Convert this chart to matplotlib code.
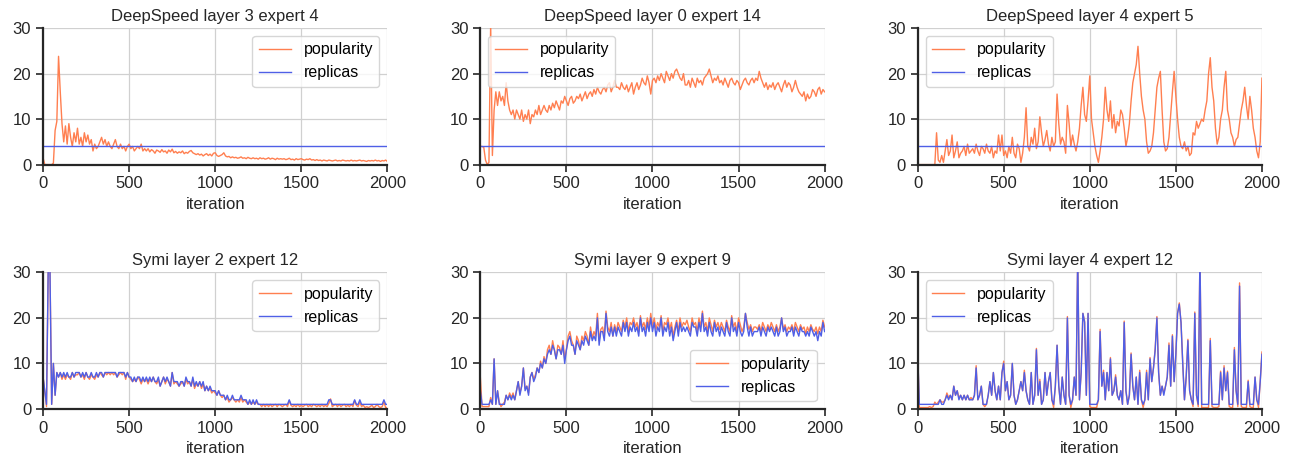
import numpy as np
import matplotlib
matplotlib.use("Agg")
import matplotlib.pyplot as plt

plt.rcParams['font.family'] = ['Liberation Sans', 'DejaVu Sans']
plt.rcParams['font.size'] = 12

POP_COLOR = '#ff7f50'
REP_COLOR = '#4f5fe6'

# iterations sampled every 10 steps
iteration = np.arange(0, 2001, 10)

# ---- DeepSpeed layer 3 expert 4 ----
ds_l3_e4_pop = [
    1.5, 0, 0, 0, 0, 0, 0.3, 7.5, 9.5, 23.8, 16, 9, 5, 8.5, 4.5, 9, 6, 4, 7, 5,
    8, 4.5, 6, 4, 7, 5, 6.5, 4.5, 5.5, 3, 4.5, 3.5, 4, 5, 6, 4.5, 5.5, 4, 5, 4,
    3.5, 4.5, 5.5, 4, 3.5, 4.5, 3.5, 4, 3, 4, 4.5, 3.5, 4, 3, 3.5, 4, 3.5, 4.5, 3, 3.5,
    3, 3.5, 2.8, 3.3, 3, 2.5, 3.2, 3, 2.7, 3.3, 2.8, 3, 2.5, 3.2, 2.8, 3.4, 2.6, 2.9, 2.5, 2.8,
    2.6, 3, 2.4, 2.7, 2.5, 2.9, 3.1, 2.6, 2.4, 2.2, 2.4, 2.1, 2.3, 1.9, 2.2, 2.4, 2, 2.3, 1.9, 2.5,
    2.6, 2, 1.8, 2, 2.2, 2.6, 1.9, 1.7, 1.8, 1.5, 1.7, 1.5, 1.6, 1.4, 1.5, 1.7, 1.4, 1.5, 1.3, 1.6,
    1.4, 1.3, 1.5, 1.3, 1.4, 1.2, 1.5, 1.3, 1.4, 1.2, 1.3, 1.5, 1.2, 1.4, 1.3, 1.1, 1.4, 1.2, 1.3, 1.2,
    1.3, 1.1, 1.2, 1.4, 1.1, 1.2, 1.0, 1.3, 1.1, 1.2, 1.3, 1.1, 1.0, 1.2, 1.1, 1.3, 1.0, 1.1, 0.9, 1.1,
    0.9, 1.0, 0.8, 1.0, 0.9, 0.8, 1.0, 0.9, 0.8, 0.9, 1.0, 0.8, 0.9, 0.8, 1.0, 0.9, 0.8, 0.9, 0.8, 1.0,
    0.8, 0.9, 0.8, 0.9, 1.0, 0.8, 0.9, 0.8, 0.7, 0.9, 0.8, 0.9, 0.8, 1.0, 0.8, 0.9, 0.7, 0.9, 0.8, 1.0,
    0.7]
ds_l3_e4_rep = [4] * 201

# ---- DeepSpeed layer 0 expert 14 ----
ds_l0_e14_pop = [
    4, 4, 3.8, 1, 0, 0.5, 31, 2, 12, 16, 13, 16, 14, 15, 13, 18, 14, 12, 11, 12,
    10, 12, 11, 10, 12, 9.5, 11, 10, 12, 9, 11, 10.5, 12, 11, 13, 11, 12, 13, 12, 11.5,
    13, 12, 13.5, 12.5, 14, 13, 12, 14, 13.5, 15, 14, 13, 14.5, 15, 13.5, 14, 15, 14.5, 15.5, 14,
    15, 16, 14.5, 15.5, 16, 15, 16.5, 15.5, 17, 16, 15.5, 16.5, 17, 16, 17.5, 18, 16, 17, 18.5, 17,
    17, 16.5, 18, 17, 16.5, 17.5, 16, 17, 18, 15.5, 17, 18, 16.5, 17.5, 19, 18, 17.5, 19.5, 18, 15.5,
    18.5, 19, 18, 19.5, 18.5, 20, 19, 18, 20.5, 19.5, 18.5, 20, 19, 20.5, 21, 20, 19, 18.5, 20, 17.5,
    17.5, 18.5, 17, 19, 18, 17, 19, 18, 18.5, 17.5, 19, 19.5, 20, 21, 19.5, 18, 19, 18.5, 19.5, 18,
    18.5, 17.5, 19, 18, 17, 18.5, 19, 18, 17.5, 18.5, 18, 16.5, 17.5, 18.5, 19, 18, 17.5, 18.5, 19, 18,
    19, 18.5, 20.5, 19, 18, 17, 18, 16.5, 17.5, 17, 18, 16.5, 17.5, 18, 17, 16, 17.5, 18.5, 17, 18,
    17.5, 16, 17, 18.5, 17, 16, 15.5, 15, 16, 14, 15.5, 14.5, 15, 16.5, 16, 15, 16.5, 17, 15.5, 16.5,
    16]
ds_l0_e14_rep = [4] * 201

# ---- DeepSpeed layer 4 expert 5 ----
ds_l4_e5_pop = [
    0, 0, 0, 0, 0, 0, 0, 0, 0, 0, 0, 7, 1, 0.5, 2, 0.5, 3, 5.5, 2, 3,
    6.5, 1.5, 3, 5, 1.5, 2.5, 3, 4, 2, 4.5, 2.5, 3, 3.5, 2.5, 4.5, 3, 2, 4, 3.5, 2.5,
    4.5, 3, 2.5, 4, 1.5, 3, 2.5, 6.5, 3, 6.5, 2, 3, 1.5, 4, 2.5, 6, 2.5, 1.5, 4.5, 3.5,
    0.5, 2.5, 6, 12.5, 4, 3, 6, 4.5, 8, 3.5, 5, 10.5, 7, 4, 5.5, 7.5, 4.5, 3, 6, 4,
    5, 15.5, 9, 4.5, 6, 5, 2.5, 13, 9, 4, 6.5, 4.5, 3, 5, 8, 13, 17, 11, 9.5, 14,
    19.5, 10, 7, 4, 2, 0.5, 3, 6, 10, 17, 12, 9.5, 14, 8, 11, 7, 9.5, 8.5, 12, 11,
    8, 4, 6, 9, 14, 18, 20, 22, 26, 20, 15, 12, 10, 5, 2.5, 3, 4, 7, 12, 17,
    19, 20.5, 12, 5, 3, 3.5, 6, 11, 16, 20.5, 15, 10, 6, 4, 3.5, 5, 3, 4, 2, 2.5,
    7, 6.5, 9.5, 8, 9, 10, 9.5, 12, 14, 20, 23.5, 17, 14, 8, 4.5, 6, 10, 12, 17, 20.5,
    12, 10, 7, 6, 4, 5.5, 6, 9, 12, 14, 17, 13, 10, 15, 12, 8, 6, 3, 1.5, 5,
    19]
ds_l4_e5_rep = [4] * 201

# ---- Symi layer 2 expert 12 ----
sy_l2_e12_pop = [
    7, 4, 0.5, 31, 31, 1, 10, 3, 8, 7, 8, 6.5, 7.5, 6.5, 7.5, 7, 6.5, 8, 7, 7.5,
    7.5, 8, 7, 7.5, 6.5, 8, 7, 6.5, 7.5, 7, 6.5, 7.5, 7, 8, 7.5, 7, 8, 7.5, 8, 7.5,
    8, 7.5, 8, 7, 7.5, 8, 7.5, 8, 6.5, 8, 7, 6.5, 6, 6.5, 6, 7, 6.5, 5.5, 6.5, 6,
    6.5, 5.5, 6.5, 6, 7, 6, 5.5, 6.5, 5, 6, 7, 5.5, 6.5, 6, 5, 8, 5.5, 6, 5.5, 5,
    5.5, 6, 5, 6.5, 5.5, 6, 5, 6.5, 4.5, 5.5, 5, 6, 4.5, 5.5, 4, 5, 4, 4.5, 3.5, 4,
    3.5, 3, 4, 3, 2.5, 3, 2, 2.5, 1.5, 2, 2.5, 2, 1.5, 2, 1.5, 2.5, 1.5, 2, 1.5, 1,
    1.5, 1, 1.5, 1, 1.5, 1, 1, 0.5, 1, 0.5, 1, 0.5, 1, 0.5, 0.8, 1, 0.5, 1, 0.8, 0.5,
    0.8, 1, 0.5, 1.8, 0.8, 0.5, 0.8, 0.5, 1, 0.5, 0.8, 0.5, 0.8, 1, 0.5, 0.8, 0.5, 1, 0.8, 0.5,
    0.8, 0.5, 1, 0.5, 0.8, 0.5, 1.2, 2.2, 0.5, 0.8, 1, 0.5, 1, 0.5, 0.8, 1, 0.5, 0.8, 0.5, 1,
    0.5, 1.8, 0.8, 0.5, 1.5, 0.5, 0.8, 0.3, 0.5, 0.3, 0.5, 0.8, 0.3, 0.5, 1, 0.5, 0.3, 0.5, 1.5, 0.3,
    0.3]
sy_l2_e12_rep = [
    7, 4, 1, 31, 31, 1, 10, 3, 8, 7, 8, 7, 8, 7, 8, 7, 7, 8, 7, 8,
    8, 8, 7, 8, 7, 8, 7, 7, 8, 7, 7, 8, 7, 8, 8, 7, 8, 8, 8, 8,
    8, 8, 8, 7, 8, 8, 8, 8, 7, 8, 7, 7, 6, 7, 6, 7, 7, 6, 7, 6,
    7, 6, 7, 6, 7, 6, 6, 7, 5, 6, 7, 6, 7, 6, 5, 8, 6, 6, 6, 5,
    6, 6, 5, 7, 6, 6, 5, 7, 5, 6, 5, 6, 5, 6, 4, 5, 4, 5, 4, 4,
    4, 3, 4, 3, 3, 3, 2, 3, 2, 2, 3, 2, 2, 2, 2, 3, 2, 2, 2, 1,
    2, 1, 2, 1, 2, 1, 1, 1, 1, 1, 1, 1, 1, 1, 1, 1, 1, 1, 1, 1,
    1, 1, 1, 2, 1, 1, 1, 1, 1, 1, 1, 1, 1, 1, 1, 1, 1, 1, 1, 1,
    1, 1, 1, 1, 1, 1, 2, 2, 1, 1, 1, 1, 1, 1, 1, 1, 1, 1, 1, 1,
    1, 2, 1, 1, 2, 1, 1, 1, 1, 1, 1, 1, 1, 1, 1, 1, 1, 1, 2, 1,
    1]

# ---- Symi layer 9 expert 9 ----
sy_l9_e9_pop = [
    7, 0.5, 0.5, 0.5, 0.5, 0.5, 2.5, 1, 11, 1, 4, 1.5, 0.5, 1, 1.5, 3, 2, 3.5, 2.5, 3.5,
    2, 4, 6, 3.5, 5, 9, 4.5, 5, 3.5, 7, 8, 6.5, 7.5, 9, 8, 10.5, 9, 11.5, 10, 13,
    14, 12, 15, 13, 11, 14, 13.5, 12, 15, 11, 13, 16, 17, 15, 14, 12, 16, 15, 13, 16,
    15, 17, 16, 14, 18, 15.5, 17, 16, 21, 15, 17.5, 18, 16, 21.5, 18, 17, 19, 16, 18.5, 17,
    19, 18, 17, 19.5, 18, 20, 17, 19, 18.5, 20, 18, 19, 17, 20.5, 18, 19, 17.5, 20, 18, 21,
    18, 20, 17.5, 19, 18, 20.5, 17, 19, 18.5, 20, 17.5, 19, 16, 18, 19.5, 17, 20, 18, 19, 18.5,
    19.5, 18, 17, 20, 18.5, 19, 17, 20, 18, 21.5, 18, 19, 17, 20, 18.5, 17, 19.5, 18, 19, 17.5,
    19, 18, 17, 19.5, 18, 17, 20.5, 18, 19, 17, 20, 18.5, 17, 18, 21, 19, 17.5, 18.5, 17, 18,
    18, 17.5, 18.5, 17, 19, 18, 17, 18.5, 17.5, 19, 18, 17, 18.5, 17, 18, 20, 17.5, 18.5, 17, 18,
    17.5, 18.5, 17, 19, 18, 17, 18.5, 17.5, 18, 16.5, 18, 17, 18.5, 17.5, 17, 18, 16.5, 18, 17, 19.5,
    18]
sy_l9_e9_rep = [
    4, 1, 1, 1, 1, 1, 2, 1, 11, 1, 4, 1, 1, 1, 1, 3, 2, 3, 2, 3,
    2, 4, 6, 3, 5, 9, 4, 5, 3, 7, 8, 6, 7, 9, 8, 10, 9, 11, 10, 12,
    13, 12, 14, 13, 11, 13, 13, 12, 14, 10, 13, 15, 16, 14, 14, 12, 15, 14, 13, 15,
    14, 16, 15, 14, 17, 15, 16, 15, 20, 14, 17, 17, 15, 21, 17, 16, 18, 16, 18, 16,
    18, 17, 16, 19, 17, 19, 16, 18, 17, 19, 17, 18, 16, 20, 17, 18, 16, 19, 17, 20,
    17, 19, 16, 18, 17, 20, 16, 18, 17, 19, 16, 18, 15, 17, 19, 16, 19, 17, 18, 17,
    18, 17, 16, 19, 18, 18, 16, 19, 17, 21, 17, 18, 16, 19, 17, 16, 19, 17, 18, 16,
    18, 17, 16, 19, 17, 16, 20, 17, 18, 16, 19, 17, 16, 17, 21, 18, 16, 18, 16, 17,
    17, 17, 18, 16, 18, 17, 16, 18, 17, 18, 17, 16, 18, 16, 17, 20, 17, 18, 16, 17,
    17, 18, 16, 18, 17, 16, 18, 17, 17, 16, 17, 16, 18, 17, 16, 17, 15, 17, 16, 19,
    17]

# ---- Symi layer 4 expert 12 ----
sy_l4_e12_pop = [
    13, 0.3, 0.3, 0.3, 0.3, 0.3, 0.3, 0.5, 0.3, 0.5, 1.5, 1, 1.5, 2, 1.5, 1.5, 2, 3.5, 2.5, 3,
    2, 5, 3, 4, 2.5, 3, 2, 3, 2, 3, 2, 2.5, 2, 3, 9.5, 2, 3, 5, 1, 0.5,
    1, 3, 6, 3, 8, 4, 2, 5, 2, 8, 10.5, 4, 6, 2, 3, 10, 3, 1, 2, 4,
    6, 4, 8.5, 4, 2, 1, 8, 1, 3, 13.3, 3, 6.5, 1, 2, 8, 3, 6, 8, 2, 0.3,
    5, 14, 5, 1, 7, 3, 1, 20.3, 3, 0.3, 2, 7, 3, 34, 2, 8, 21, 19.3, 3, 21,
    0.5, 0.3, 0.3, 0.3, 0.3, 2, 17.5, 5, 8.5, 2, 8, 4, 11.3, 3, 4, 7.5, 3, 2, 4, 1,
    19.3, 4, 1, 3, 12.3, 5, 2, 7, 1, 8.5, 2, 0.3, 2, 8.5, 2, 11.3, 6, 9, 13.3, 20.3,
    8, 3, 5, 3.5, 5, 7, 14.5, 5, 16.3, 6, 12.3, 21, 23.3, 19, 10, 2, 7, 15.3, 4, 2,
    0.5, 21.3, 3, 0.5, 34, 0.3, 0.3, 0.3, 0.3, 0.3, 15.5, 0.5, 0.3, 0.3, 0.3, 0.5, 8.3, 2, 9.5, 4,
    8.3, 0.5, 0.3, 0.3, 13.5, 4, 0.5, 27.7, 0.5, 0.3, 0.3, 0.3, 6.3, 0.5, 0.3, 0.3, 7, 2, 0.3, 6,
    12.5]
sy_l4_e12_rep = [
    13, 1, 1, 1, 1, 1, 1, 1, 1, 1, 1, 1, 1, 2, 1, 1, 2, 3, 2, 3,
    2, 5, 3, 4, 2, 3, 2, 3, 2, 3, 2, 2, 2, 3, 9, 2, 3, 5, 1, 1,
    1, 3, 6, 3, 8, 4, 2, 5, 2, 8, 10, 4, 6, 2, 3, 10, 3, 1, 2, 4,
    6, 4, 8, 4, 2, 1, 8, 1, 3, 13, 3, 6, 1, 2, 8, 3, 6, 8, 2, 1,
    5, 14, 5, 1, 7, 3, 1, 20, 3, 1, 2, 7, 3, 34, 2, 8, 21, 19, 3, 21,
    1, 1, 1, 1, 1, 2, 17, 5, 8, 2, 8, 4, 11, 3, 4, 7, 3, 2, 4, 1,
    19, 4, 1, 3, 12, 5, 2, 7, 1, 8, 2, 1, 2, 8, 2, 11, 6, 9, 13, 20,
    8, 3, 5, 3, 5, 7, 14, 5, 16, 6, 12, 21, 23, 19, 10, 2, 7, 15, 4, 2,
    1, 21, 3, 1, 34, 1, 1, 1, 1, 1, 15, 1, 1, 1, 1, 1, 8, 2, 9, 4,
    8, 1, 1, 1, 13, 4, 1, 27, 1, 1, 1, 1, 6, 1, 1, 1, 7, 2, 1, 6,
    12]

titles = ['DeepSpeed layer 3 expert 4', 'DeepSpeed layer 0 expert 14', 'DeepSpeed layer 4 expert 5',
          'Symi layer 2 expert 12', 'Symi layer 9 expert 9', 'Symi layer 4 expert 12']
pops = [ds_l3_e4_pop, ds_l0_e14_pop, ds_l4_e5_pop, sy_l2_e12_pop, sy_l9_e9_pop, sy_l4_e12_pop]
reps = [ds_l3_e4_rep, ds_l0_e14_rep, ds_l4_e5_rep, sy_l2_e12_rep, sy_l9_e9_rep, sy_l4_e12_rep]
legend_locs = ['upper right', 'upper left', 'upper left', 'upper right', 'lower right', 'upper left']

fig, axes = plt.subplots(2, 3, figsize=(12.89, 4.61), dpi=100)
fig.subplots_adjust(left=0.0334, right=0.979, top=0.939, bottom=0.113, wspace=0.27, hspace=0.79)

for ax, title, pop, rep, loc in zip(axes.flat, titles, pops, reps, legend_locs):
    ax.plot(iteration, pop, color=POP_COLOR, lw=1, label='popularity')
    ax.plot(iteration, rep, color=REP_COLOR, lw=1, label='replicas')
    ax.set_xlim(0, 2000)
    ax.set_ylim(0, 30)
    ax.set_xticks([0, 500, 1000, 1500, 2000])
    ax.set_yticks([0, 10, 20, 30])
    ax.set_title(title, fontsize=12, color='#262626', pad=5)
    ax.set_xlabel('iteration', fontsize=12, color='#262626', labelpad=4)
    ax.grid(True, color='#d0d0d0', lw=0.9)
    ax.set_axisbelow(True)
    for side in ['top', 'right']:
        ax.spines[side].set_visible(False)
    for side in ['left', 'bottom']:
        ax.spines[side].set_linewidth(1.6)
        ax.spines[side].set_color('#262626')
    ax.tick_params(direction='out', length=5, width=1.2, colors='#262626', labelsize=12)
    ax.legend(loc=loc, fontsize=11.5, framealpha=0.8, edgecolor='#cccccc')

fig.savefig('out.png', dpi=100)
